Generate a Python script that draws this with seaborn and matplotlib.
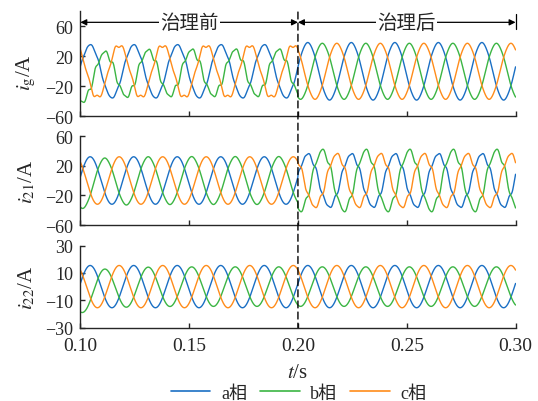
import numpy as np
import pandas as pd
import matplotlib
matplotlib.use('Agg')
import matplotlib.pyplot as plt
from matplotlib.lines import Line2D
from matplotlib.patches import ConnectionPatch
import seaborn as sns

# values
phases = ['a相', 'b相', 'c相']
colors = ['#1a6fc4', '#3bb543', '#ff8c1a']
f_grid = 50.0          # Hz, 10 cycles over 0.1 s .. 0.3 s
t_switch = 0.20
phase_offset = 0.15    # rad, a phase slightly past zero at t = 0.1

# i_g : amplitude, 5th/7th harmonic ratios, dc offset -- before / after
ig_amp_before = [35, 30, 35]
ig_h5_before = [0.03, 0.09, -0.07]
ig_h7_before = [0.02, 0.07, 0.02]
ig_dc_before = [0, -2, 0]
ig_amp_after = [38, 37, 37]
ig_h5_after = [0.01, 0.01, 0.01]
ig_h7_after = [0.0, 0.0, 0.0]
ig_start = [0, -9, 0]

# i_21
i21_amp_before = [32, 32, 32]
i21_h5_before = [0.0, 0.01, 0.0]
i21_h7_before = [0.0, 0.0, 0.0]
i21_amp_after = [35, 40, 35]
i21_h5_after = [0.06, 0.08, 0.07]
i21_h7_after = [0.05, 0.04, 0.05]
i21_start = [0, -6, 0]

# i_22
i22_amp = [15.5, 14.5, 15.5]
i22_start = [0, -5, 0]

t = np.linspace(0.10, 0.30, 4001)


def wave(amp_b, h5_b, h7_b, amp_a, h5_a, h7_a, start, dc_b=(0, 0, 0)):
    out = {}
    w = 2 * np.pi * f_grid
    after = t >= t_switch
    for k, p in enumerate(phases):
        th = w * (t - 0.1) + phase_offset - k * 2 * np.pi / 3
        amp = np.where(after, amp_a[k], amp_b[k])
        h5 = np.where(after, h5_a[k], h5_b[k])
        h7 = np.where(after, h7_a[k], h7_b[k])
        dc = np.where(after, 0, dc_b[k])
        y = amp * (np.sin(th) + h5 * np.sin(5 * th) + h7 * np.sin(7 * th + 0.6))
        y = y + dc + start[k] * np.exp(-(t - 0.1) / 0.01)
        out[p] = y
    return out


ig = wave(ig_amp_before, ig_h5_before, ig_h7_before,
          ig_amp_after, ig_h5_after, ig_h7_after, ig_start, ig_dc_before)
i21 = wave(i21_amp_before, i21_h5_before, i21_h7_before,
           i21_amp_after, i21_h5_after, i21_h7_after, i21_start)
i22 = wave(i22_amp, [0, 0, 0], [0, 0, 0], i22_amp, [0, 0, 0], [0, 0, 0], i22_start)


def to_long(d):
    return pd.concat([pd.DataFrame({'t': t, 'i': d[p], 'phase': p}) for p in phases],
                     ignore_index=True)


sns.set_style('ticks')
plt.rcParams['font.family'] = ['Liberation Serif', 'Noto Sans CJK SC']
plt.rcParams['mathtext.fontset'] = 'stix'
plt.rcParams['axes.unicode_minus'] = True

fig = plt.figure(figsize=(5.38, 4.02), dpi=100)
ax1 = fig.add_axes([0.1493, 0.7082, 0.809, 0.2612])
ax2 = fig.add_axes([0.1493, 0.4378, 0.809, 0.2214])
ax3 = fig.add_axes([0.1493, 0.1828, 0.809, 0.2035])

palette = dict(zip(phases, colors))
panels = [(ax1, ig, r'$i_{\mathrm{g}}$/A', (-60, 80), [-60, -20, 20, 60]),
          (ax2, i21, r'$i_{21}$/A', (-60, 60), [-60, -20, 20, 60]),
          (ax3, i22, r'$i_{22}$/A', (-30, 30), [-30, -10, 10, 30])]

for ax, d, lab, ylim, yt in panels:
    sns.lineplot(data=to_long(d), x='t', y='i', hue='phase', palette=palette,
                 estimator=None, legend=False, lw=1.0, ax=ax)
    ax.set_xlim(0.1, 0.3)
    ax.set_ylim(*ylim)
    ax.set_yticks(yt)
    ax.set_xticks([0.10, 0.15, 0.20, 0.25, 0.30])
    ax.set_xticklabels(['0.10', '0.15', '0.20', '0.25', '0.30'])
    for s in ['top', 'right']:
        ax.spines[s].set_visible(False)
    for s in ['left', 'bottom']:
        ax.spines[s].set_linewidth(1.0)
        ax.spines[s].set_color('#262626')
    ax.tick_params(direction='in', length=3.5, width=1.0, color='#262626')
    ax.tick_params(axis='y', labelsize=13, pad=5)
    ax.tick_params(axis='x', labelsize=14, pad=7)
    ax.set_xlabel('')
    ax.set_ylabel(lab, fontsize=15)
    y0 = (0 - ylim[0]) / (ylim[1] - ylim[0])
    ax.yaxis.set_label_coords(-0.098, y0)

ax1.tick_params(axis='x', labelbottom=False)
ax2.tick_params(axis='x', labelbottom=False)
ax3.set_xlabel(r'$t$/s', fontsize=15, labelpad=6)

# before / after arrows
arr = dict(arrowstyle='<|-|>', color='black', lw=0.9, mutation_scale=9,
           shrinkA=0, shrinkB=0)
ax1.annotate('', xy=(0.1, 65.3), xytext=(0.2, 65.3), arrowprops=arr, annotation_clip=False)
ax1.annotate('', xy=(0.2, 65.3), xytext=(0.3, 65.3), arrowprops=arr, annotation_clip=False)
ax1.plot([0.3, 0.3], [57, 77], color='black', lw=0.9, clip_on=False)
for xc, txt in [(0.15, '治理前'), (0.25, '治理后')]:
    ax1.text(xc, 65.3, txt, ha='center', va='center', fontsize=14,
             bbox=dict(facecolor='white', edgecolor='none', pad=1.0))

con = ConnectionPatch(xyA=(0.2, 79), coordsA=ax1.transData,
                      xyB=(0.2, -30), coordsB=ax3.transData,
                      color='black', lw=1.0, linestyle=(0, (5, 3)), zorder=5)
fig.add_artist(con)

handles = [Line2D([0], [0], color=c, lw=1.2) for c in colors]
fig.legend(handles, phases, loc='center', bbox_to_anchor=(0.555, 0.02), ncol=3,
           frameon=False, fontsize=13, handlelength=2.2, handletextpad=0.6,
           columnspacing=0.7, borderaxespad=0, borderpad=0.1)

fig.savefig('out.png', dpi=100)
